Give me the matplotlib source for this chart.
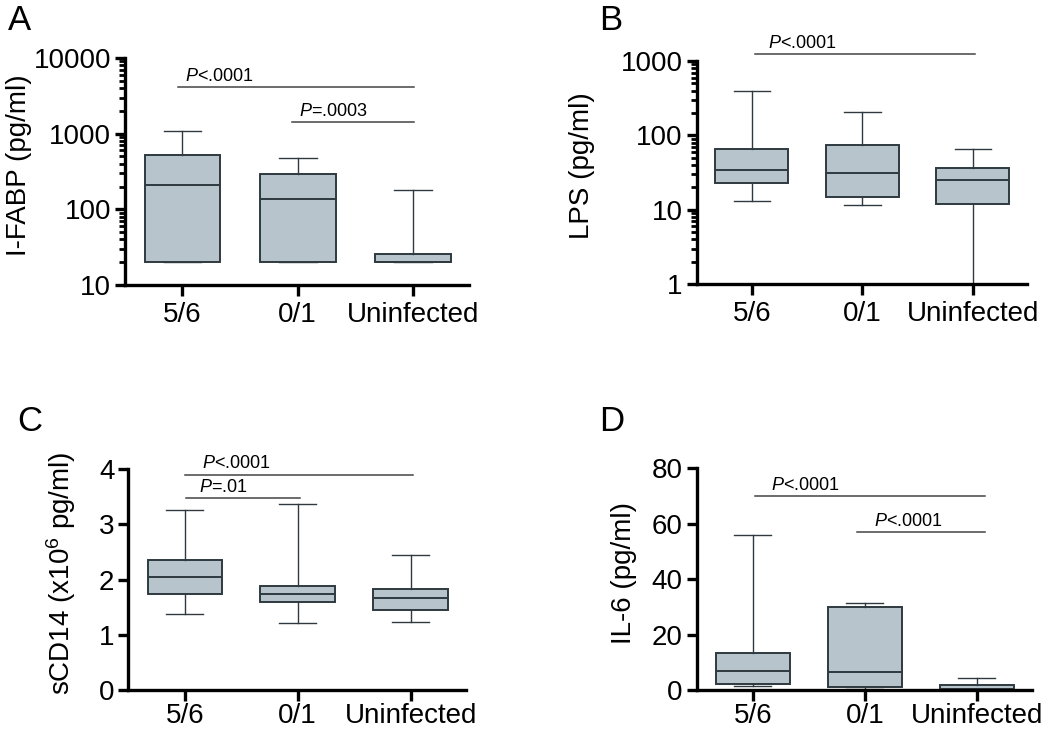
import matplotlib
matplotlib.use("Agg")
import matplotlib.pyplot as plt
from matplotlib.ticker import LogLocator, NullFormatter
import numpy as np

plt.rcParams["font.family"] = ["Liberation Sans", "DejaVu Sans"]
plt.rcParams["mathtext.fontset"] = "custom"
plt.rcParams["mathtext.rm"] = "Liberation Sans"
plt.rcParams["mathtext.it"] = "Liberation Sans:italic"

groups = ["5/6", "0/1", "Uninfected"]

# min, q1, median, q3, max  per group
ifabp_min = [20, 20, 20]
ifabp_q1 = [20, 20, 20]
ifabp_med = [210, 136, 20]
ifabp_q3 = [524, 296, 25.8]
ifabp_max = [1096, 478, 180]

lps_min = [13.3, 11.6, 1.0]
lps_q1 = [23.2, 14.7, 12.1]
lps_med = [34.6, 31.2, 24.9]
lps_q3 = [66, 74, 36.8]
lps_max = [395, 206, 65]

scd14_min = [1.38, 1.21, 1.23]
scd14_q1 = [1.75, 1.60, 1.45]
scd14_med = [2.05, 1.74, 1.66]
scd14_q3 = [2.35, 1.89, 1.83]
scd14_max = [3.26, 3.37, 2.45]

il6_min = [1.6, 0.5, 0.0]
il6_q1 = [2.2, 1.2, 0.2]
il6_med = [7.1, 6.5, 0.3]
il6_q3 = [13.6, 30.2, 2.0]
il6_max = [55.9, 31.6, 4.3]

# significance bars: (x start, x end, y, label)
ifabp_sig = [(-0.04, 2.01, 4180, "<.0001"), (0.95, 2.01, 1430, "=.0003")]
lps_sig = [(0.03, 2.02, 1230, "<.0001")]
scd14_sig = [(0.0, 2.02, 3.9, "<.0001"), (0.01, 1.02, 3.48, "=.01")]
il6_sig = [(0.02, 2.07, 70, "<.0001"), (0.93, 2.07, 57.1, "<.0001")]

box_face = "#b7c4cc"
edge = "#2f3a40"

fig = plt.figure(figsize=(10.5, 7.34), dpi=100)


def panel(rect, mins, q1s, meds, q3s, maxs, ylabel, sig, letter, letter_xy,
          label_x, log=False, ylim=None, yticks=None, text_dx=None, xpad=4):
    ax = fig.add_axes(rect)
    stats = []
    for i in range(len(groups)):
        stats.append(dict(whislo=mins[i], q1=q1s[i], med=meds[i], q3=q3s[i],
                          whishi=maxs[i], fliers=[], label=groups[i]))
    ax.bxp(stats, positions=range(len(groups)), widths=0.66, patch_artist=True,
           showfliers=False,
           boxprops=dict(facecolor=box_face, edgecolor=edge, linewidth=1.4),
           medianprops=dict(color=edge, linewidth=1.4),
           whiskerprops=dict(color=edge, linewidth=1.0),
           capprops=dict(color=edge, linewidth=1.0),
           capwidths=0.33)
    if log:
        ax.set_yscale("log")
        ax.yaxis.set_minor_locator(LogLocator(base=10, subs=np.arange(2, 10)))
        ax.yaxis.set_minor_formatter(NullFormatter())
    ax.set_ylim(*ylim)
    ax.set_xlim(-0.5, 2.49)
    ax.set_yticks(yticks)
    ax.set_yticklabels([str(t) for t in yticks])
    ax.set_xticks(range(len(groups)))
    ax.set_xticklabels(groups)
    for s in ["top", "right"]:
        ax.spines[s].set_visible(False)
    for s in ["left", "bottom"]:
        ax.spines[s].set_linewidth(2.4)
        ax.spines[s].set_color("black")
    ax.tick_params(axis="both", which="major", labelsize=20, width=2.4,
                   length=7, pad=3)
    ax.tick_params(axis="x", length=8, pad=xpad)
    ax.tick_params(axis="y", which="minor", width=2.0, length=4)
    ax.set_ylabel(ylabel, fontsize=20)
    ax.yaxis.set_label_coords(label_x, 0.53)
    for k, (x0, x1, y, lab) in enumerate(sig):
        ax.plot([x0, x1], [y, y], color="#444444", linewidth=1.1,
                clip_on=False)
        dx = text_dx[k] if text_dx else 0.07
        ax.annotate(r"$\it{P}$" + lab, xy=(x0 + dx, y), xytext=(0, 1.5),
                    textcoords="offset points", fontsize=13, ha="left",
                    va="bottom", annotation_clip=False)
    fig.text(letter_xy[0], letter_xy[1], letter, fontsize=25, ha="left",
             va="top")
    return ax


panel([0.119, 0.6117, 0.3277, 0.3093], ifabp_min, ifabp_q1, ifabp_med,
      ifabp_q3, ifabp_max, "I-FABP (pg/ml)", ifabp_sig, "A", (0.008, 0.995),
      -0.27, log=True, ylim=(10, 10000), yticks=[10, 100, 1000, 10000],
      text_dx=[0.06, 0.06])

panel([0.6635, 0.6127, 0.3145, 0.3042], lps_min, lps_q1, lps_med, lps_q3,
      lps_max, "LPS (pg/ml)", lps_sig, "B", (0.571, 0.995),
      -0.308, log=True, ylim=(1, 1000), yticks=[1, 10, 100, 1000],
      text_dx=[0.12, 0.12])

panel([0.1222, 0.0595, 0.3216, 0.3015], scd14_min, scd14_q1, scd14_med,
      scd14_q3, scd14_max, r"sCD14 (x10$^{6}$ pg/ml)", scd14_sig, "C",
      (0.016, 0.448), -0.149, ylim=(0, 4), yticks=[0, 1, 2, 3, 4],
      text_dx=[0.15, 0.12], xpad=1)

panel([0.6635, 0.0595, 0.3191, 0.3025], il6_min, il6_q1, il6_med, il6_q3,
      il6_max, "IL-6 (pg/ml)", il6_sig, "D", (0.571, 0.448),
      -0.179, ylim=(0, 80), yticks=[0, 20, 40, 60, 80],
      text_dx=[0.14, 0.15], xpad=1)

fig.savefig("out.png", dpi=100)
